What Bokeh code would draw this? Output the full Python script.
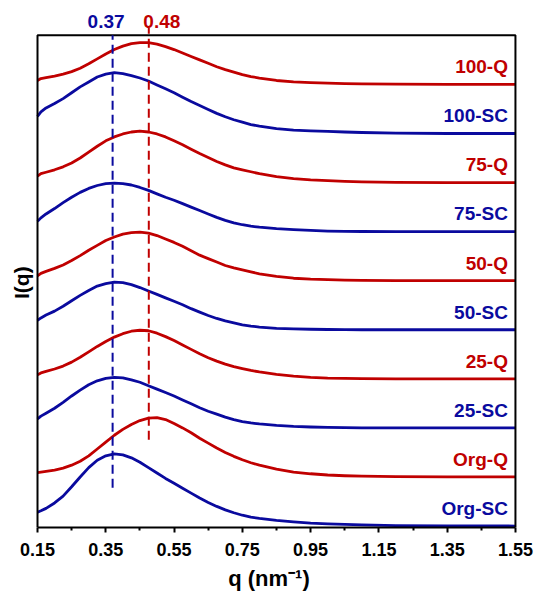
from bokeh.plotting import figure
from bokeh.models import Range1d, FixedTicker, PrintfTickFormatter
from bokeh.core.properties import value
from bokeh.embed import file_html
from bokeh.resources import INLINE
import math

# ---------------- data ----------------
q = [0.15, 0.16, 0.175, 0.20, 0.225, 0.25, 0.275, 0.30, 0.325, 0.35, 0.375, 0.40,
     0.425, 0.45, 0.475, 0.50, 0.525, 0.55, 0.575, 0.60, 0.625, 0.65, 0.675, 0.70,
     0.725, 0.75, 0.775, 0.80, 0.85, 0.90, 0.95, 1.00, 1.05, 1.10, 1.20, 1.35, 1.55]

names = ["Org-SC", "Org-Q", "25-SC", "25-Q", "50-SC", "50-Q", "75-SC", "75-Q", "100-SC", "100-Q"]
offsets = [0, 1, 2, 3, 4, 5, 6, 7, 8, 9]

org_sc = [0.28, 0.31, 0.36, 0.47, 0.61, 0.80, 1.00, 1.19, 1.34, 1.43, 1.47, 1.45,
          1.39, 1.30, 1.19, 1.08, 0.97, 0.87, 0.77, 0.67, 0.57, 0.48, 0.40, 0.33,
          0.27, 0.22, 0.18, 0.155, 0.115, 0.085, 0.06, 0.045, 0.032, 0.022, 0.01, 0.003, 0.0]
org_q = [0.09, 0.10, 0.115, 0.14, 0.18, 0.24, 0.32, 0.43, 0.57, 0.71, 0.85, 0.97,
         1.07, 1.15, 1.20, 1.21, 1.17, 1.09, 1.00, 0.90, 0.79, 0.69, 0.59, 0.50,
         0.42, 0.35, 0.29, 0.24, 0.16, 0.10, 0.065, 0.04, 0.025, 0.015, 0.006, 0.0, 0.0]
sc25 = [0.18, 0.24, 0.30, 0.40, 0.52, 0.65, 0.77, 0.88, 0.96, 1.01, 1.03, 1.02,
        0.98, 0.93, 0.86, 0.79, 0.72, 0.65, 0.57, 0.49, 0.41, 0.34, 0.28, 0.22,
        0.17, 0.13, 0.10, 0.08, 0.05, 0.03, 0.018, 0.01, 0.005, 0.002, 0.0, 0.0, 0.0]
q25 = [0.08, 0.12, 0.15, 0.20, 0.26, 0.34, 0.44, 0.55, 0.66, 0.76, 0.85, 0.92,
       0.97, 0.99, 0.98, 0.93, 0.86, 0.78, 0.69, 0.60, 0.51, 0.43, 0.36, 0.30,
       0.25, 0.21, 0.17, 0.14, 0.09, 0.055, 0.03, 0.015, 0.008, 0.004, 0.0, 0.0, 0.0]
sc50 = [0.19, 0.24, 0.30, 0.38, 0.48, 0.59, 0.70, 0.80, 0.89, 0.94, 0.97, 0.96,
        0.92, 0.86, 0.79, 0.72, 0.65, 0.58, 0.51, 0.43, 0.36, 0.29, 0.23, 0.18,
        0.14, 0.10, 0.075, 0.055, 0.03, 0.017, 0.01, 0.005, 0.002, 0.0, 0.0, 0.0, 0.0]
q50 = [0.10, 0.15, 0.19, 0.25, 0.32, 0.41, 0.51, 0.62, 0.72, 0.82, 0.89, 0.95,
       0.98, 0.99, 0.97, 0.92, 0.85, 0.78, 0.70, 0.61, 0.52, 0.45, 0.38, 0.31,
       0.26, 0.22, 0.18, 0.14, 0.09, 0.05, 0.03, 0.02, 0.01, 0.005, 0.0, 0.0, 0.0]
sc75 = [0.21, 0.28, 0.36, 0.47, 0.59, 0.70, 0.80, 0.88, 0.94, 0.98, 0.99, 0.98,
        0.95, 0.90, 0.84, 0.77, 0.70, 0.64, 0.57, 0.50, 0.43, 0.36, 0.29, 0.23,
        0.18, 0.14, 0.11, 0.09, 0.06, 0.04, 0.025, 0.012, 0.005, 0.002, 0.0, 0.0, 0.0]
q75 = [0.13, 0.18, 0.21, 0.26, 0.32, 0.40, 0.50, 0.62, 0.74, 0.85, 0.93, 0.99,
       1.03, 1.05, 1.03, 0.99, 0.93, 0.85, 0.77, 0.68, 0.59, 0.51, 0.43, 0.36,
       0.30, 0.26, 0.22, 0.18, 0.12, 0.08, 0.055, 0.04, 0.025, 0.015, 0.005, 0.0, 0.0]
sc100 = [0.35, 0.44, 0.52, 0.61, 0.71, 0.83, 0.95, 1.05, 1.15, 1.21, 1.24, 1.22,
         1.18, 1.13, 1.07, 0.99, 0.91, 0.83, 0.74, 0.65, 0.57, 0.49, 0.41, 0.34,
         0.28, 0.23, 0.18, 0.15, 0.10, 0.07, 0.055, 0.043, 0.03, 0.02, 0.008, 0.0, 0.0]
q100 = [0.08, 0.12, 0.14, 0.17, 0.21, 0.26, 0.33, 0.42, 0.52, 0.62, 0.71, 0.78,
        0.83, 0.85, 0.85, 0.82, 0.77, 0.71, 0.64, 0.57, 0.50, 0.43, 0.36, 0.30,
        0.25, 0.20, 0.16, 0.13, 0.08, 0.05, 0.035, 0.027, 0.018, 0.012, 0.004, 0.0, 0.0]

series = [org_sc, org_q, sc25, q25, sc50, q50, sc75, q75, sc100, q100]
for s in series:
    assert len(s) == len(q)

peak_q = [0.37, 0.476]
peak_labels = ["0.37", "0.48"]
dash_bottom = [0.78, 1.76]
dash_top = [10.0, 10.16]

x_ticks = [0.15, 0.35, 0.55, 0.75, 0.95, 1.15, 1.35, 1.55]
x_minor = [0.25, 0.45, 0.65, 0.85, 1.05, 1.25, 1.45]

BLUE = "#0A0A9E"
RED = "#C00000"
colors = [BLUE if n.endswith("SC") else RED for n in names]
FONT = "Liberation Sans"
box_top = 10.0
box_bottom = -0.03

# ---------------- figure ----------------
p = figure(frame_width=537, frame_height=527,
           x_range=Range1d(0.0416, 1.6146), y_range=Range1d(-0.03, 10.71),
           output_backend="svg", toolbar_location=None,
           min_border_left=0, min_border_right=0, min_border_top=0, min_border_bottom=64)
p.outline_line_color = None
p.grid.visible = False
p.yaxis.visible = False
p.background_fill_color = "white"
p.border_fill_color = "white"

xa = p.xaxis[0]
xa.ticker = FixedTicker(ticks=x_ticks, minor_ticks=x_minor)
xa.formatter = PrintfTickFormatter(format="%.2f")
xa.bounds = (x_ticks[0], x_ticks[-1])
xa.axis_line_width = 2
xa.axis_line_color = "black"
xa.major_tick_line_width = 2
xa.minor_tick_line_width = 2
xa.major_tick_out = 5
xa.major_tick_in = 0
xa.minor_tick_out = 3
xa.minor_tick_in = 0
xa.major_label_text_font = FONT
xa.major_label_text_font_style = "bold"
xa.major_label_text_font_size = "18px"
xa.major_label_text_color = "black"
xa.major_label_standoff = 10
xa.axis_label = "q (nm\u207b\u00b9)"
xa.axis_label_text_font = FONT
xa.axis_label_text_font_style = "bold"
xa.axis_label_text_font_size = "22px"
xa.axis_label_text_color = "black"
xa.axis_label_standoff = 7

# curves
for name, off, vals, col in zip(names, offsets, series, colors):
    p.line(q, [v + off for v in vals], line_color=col, line_width=2.8, line_join="round")

# frame box (left, top, right)
p.line([x_ticks[0], x_ticks[0], x_ticks[-1], x_ticks[-1]],
       [box_bottom, box_top, box_top, box_bottom], line_color="black", line_width=2)

# dashed peak markers
p.segment(x0=peak_q, y0=dash_bottom, x1=peak_q, y1=dash_top,
          line_color=[BLUE, RED], line_width=2, line_dash="9 5")

# peak labels
p.text(x=peak_q, y=[10.29, 10.29], text=peak_labels, x_offset=[-6.5, 13],
       text_align="center", text_baseline="middle",
       text_color=[BLUE, RED], text_font=value(FONT), text_font_style="bold",
       text_font_size="19px")

# curve labels
p.text(x=[1.528] * len(names), y=[o + 0.36 for o in offsets], text=names,
       text_align="right", text_baseline="middle", text_color=colors,
       text_font=value(FONT), text_font_style="bold", text_font_size="19px")

# y-axis title
p.text(x=[x_ticks[0]], y=[4.96], text=["I(q)"], x_offset=-16, angle=math.pi / 2,
       text_align="center", text_baseline="middle", text_color="black",
       text_font=value(FONT), text_font_style="bold", text_font_size="21px")

open("out.html", "w").write(file_html(p, INLINE))
